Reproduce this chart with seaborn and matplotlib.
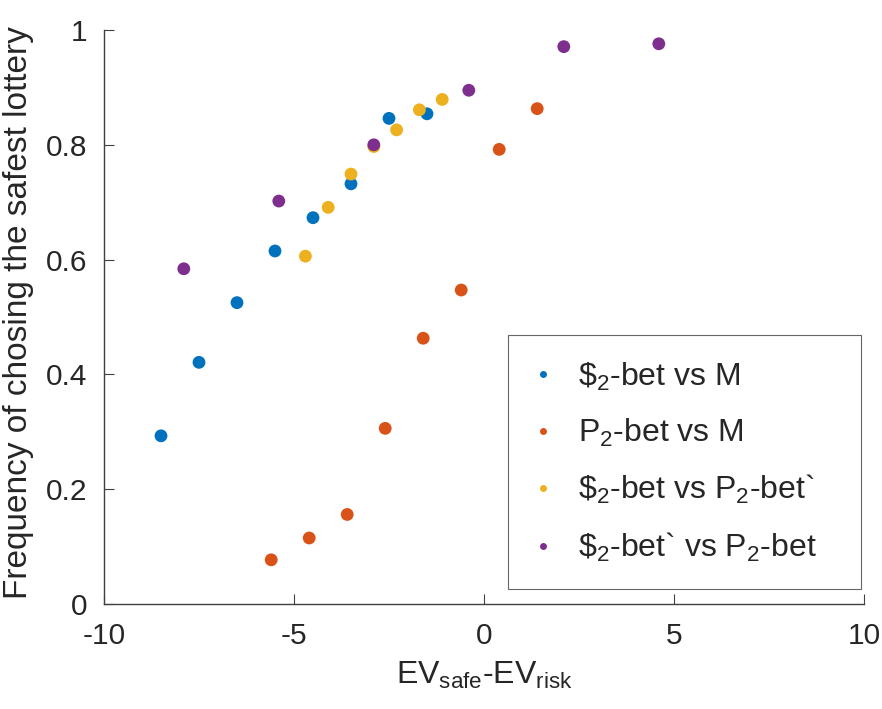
import numpy as np
import pandas as pd
import matplotlib
matplotlib.use("Agg")
import matplotlib.pyplot as plt
import seaborn as sns

# ---- data ----
labels = [r"\$$_2$-bet vs M", r"P$_2$-bet vs M",
          r"\$$_2$-bet vs P$_2$-bet`", r"\$$_2$-bet` vs P$_2$-bet"]
x_s_m = [-8.5, -7.5, -6.5, -5.5, -4.5, -3.5, -2.5, -1.5]
y_s_m = [0.293, 0.421, 0.525, 0.615, 0.673, 0.732, 0.846, 0.854]
x_p_m = [-5.6, -4.6, -3.6, -2.6, -1.6, -0.6, 0.4, 1.4]
y_p_m = [0.077, 0.115, 0.156, 0.306, 0.463, 0.547, 0.792, 0.863]
x_s_p = [-4.7, -4.1, -3.5, -2.9, -2.3, -1.7, -1.1]
y_s_p = [0.606, 0.691, 0.749, 0.797, 0.826, 0.861, 0.879]
x_sp_p = [-7.9, -5.4, -2.9, -0.4, 2.1, 4.6]
y_sp_p = [0.584, 0.702, 0.800, 0.895, 0.971, 0.976]
colors = ["#0072BD", "#D95319", "#EDB120", "#7E2F8E"]
xticks = [-10, -5, 0, 5, 10]
xticklabels = ["-10", "-5", "0", "5", "10"]
yticks = [0, 0.2, 0.4, 0.6, 0.8, 1]
yticklabels = ["0", "0.2", "0.4", "0.6", "0.8", "1"]

xs = [x_s_m, x_p_m, x_s_p, x_sp_p]
ys = [y_s_m, y_p_m, y_s_p, y_sp_p]
df = pd.concat([pd.DataFrame({"x": xx, "y": yy, "group": lab})
                for xx, yy, lab in zip(xs, ys, labels)], ignore_index=True)

sns.set_theme(style="ticks")
plt.rcParams["font.family"] = ["Liberation Sans", "DejaVu Sans"]
plt.rcParams["mathtext.fontset"] = "custom"
plt.rcParams["mathtext.rm"] = "Liberation Sans"
plt.rcParams["mathtext.it"] = "Liberation Sans"
plt.rcParams["mathtext.bf"] = "Liberation Sans"

fig = plt.figure(figsize=(8.82, 7.09), dpi=100)
ax = fig.add_axes([104/882, 105/709, 760/882, 574/709])

sns.scatterplot(data=df, x="x", y="y", hue="group", hue_order=labels,
                palette=colors, s=85, linewidth=0, ax=ax, legend=False)

ax.set_xlim(-10, 10)
ax.set_ylim(0, 1)
ax.set_xticks(xticks)
ax.set_xticklabels(xticklabels)
ax.set_yticks(yticks)
ax.set_yticklabels(yticklabels)
for s in ["top", "right"]:
    ax.spines[s].set_visible(False)
for s in ["left", "bottom"]:
    ax.spines[s].set_color("#404040")
    ax.spines[s].set_linewidth(1.0)
ax.tick_params(direction="in", length=7, width=0.8, color="#404040",
               labelsize=21.5, labelcolor="#262626")
ax.tick_params(axis="x", pad=13)
ax.tick_params(axis="y", pad=12)
ax.set_xlabel(r"EV$_{\rm safe}$-EV$_{\rm risk}$", fontsize=23, color="#262626", labelpad=7)
ax.set_ylabel("Frequency of chosing the safest lottery", fontsize=24,
              color="#262626")
ax.yaxis.set_label_coords(-70/760, 0.508)

handles = [plt.Line2D([], [], marker="o", linestyle="", markersize=5,
                      markerfacecolor=c, markeredgewidth=0) for c in colors]
leg = ax.legend(handles, labels, loc="upper left",
                bbox_to_anchor=(508/882, 1 - 593/709, 353/882, 258/709),
                bbox_transform=fig.transFigure, mode="expand",
                fontsize=23, frameon=True, fancybox=False, edgecolor="#404040",
                handlelength=0.6, handletextpad=0.8, borderpad=0.8,
                labelspacing=0.76, borderaxespad=0)
leg.get_frame().set_linewidth(0.8)

fig.savefig("out.png", dpi=100)
